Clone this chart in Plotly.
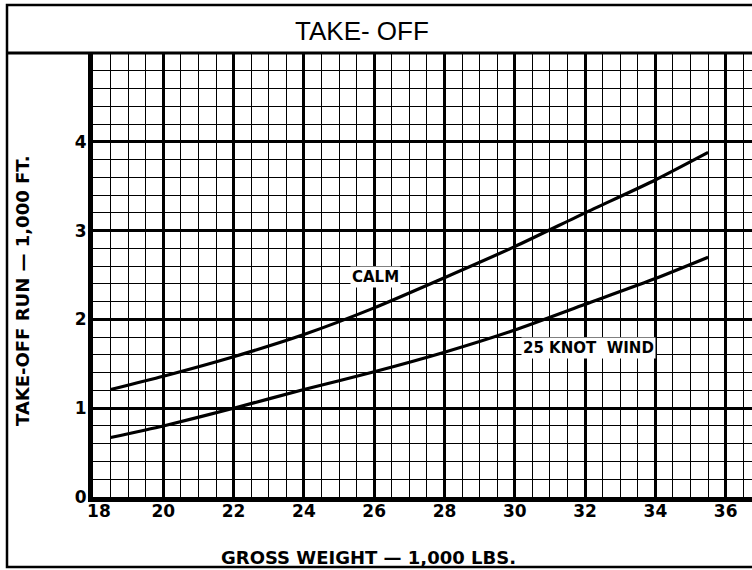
import plotly.graph_objects as go

# Gross weight (1,000 lbs)
weight = [18.5, 20, 22, 24, 26, 28, 30, 32, 34, 35.5]
# Take-off run (1,000 ft)
calm = [1.21, 1.36, 1.58, 1.83, 2.13, 2.47, 2.82, 3.20, 3.57, 3.88]
wind25 = [0.67, 0.80, 1.00, 1.21, 1.41, 1.63, 1.88, 2.17, 2.46, 2.70]

x_ticks = [18, 20, 22, 24, 26, 28, 30, 32, 34, 36]
x_ticktext = ["\u00a0\u00a018", "20", "22", "24", "26", "28", "30", "32", "34", "36"]
y_ticks = [0, 1, 2, 3, 4]

title_text = "TAKE- OFF"
x_title = "GROSS WEIGHT — 1,000 LBS."
y_title = "TAKE-OFF RUN — 1,000 FT."

W, H = 752, 570
ml, mr, mt, mb = 93, 0, 53, 73
pw, ph = W - ml - mr, H - mt - mb
px_per_x = 35.15
x_max = 18 + pw / px_per_x


def px(xpix):
    return (xpix - ml) / pw


def py(ypix):
    return (H - mb - ypix) / ph


fig = go.Figure()
for ys in (calm, wind25):
    fig.add_trace(go.Scatter(x=weight, y=ys, mode="lines",
                             line=dict(color="black", width=3.2, shape="spline", smoothing=0.6),
                             showlegend=False, hoverinfo="skip"))

tick_font = dict(family="DejaVu Sans", size=17, color="black", weight="bold")

fig.update_xaxes(range=[18, x_max], tickvals=x_ticks, ticktext=x_ticktext,
                 showgrid=True, gridcolor="black", gridwidth=3,
                 minor=dict(dtick=0.5, tick0=18, showgrid=True, gridcolor="black", gridwidth=1.4),
                 zeroline=False, showline=True, linecolor="black", linewidth=5,
                 ticks="", tickfont=tick_font, ticklabelstandoff=-5)
fig.update_yaxes(range=[0, 5], tickvals=y_ticks, ticktext=[str(v) for v in y_ticks],
                 showgrid=True, gridcolor="black", gridwidth=3,
                 minor=dict(dtick=0.2, tick0=0, showgrid=True, gridcolor="black", gridwidth=1.4),
                 zeroline=False, showline=True, linecolor="black", linewidth=5,
                 ticks="", tickfont=tick_font, ticklabelstandoff=-2)

shapes = [
    # outer border
    dict(type="rect", xref="paper", yref="paper", x0=px(7), x1=px(760), y0=py(567), y1=py(5),
         line=dict(color="black", width=2.5), fillcolor="rgba(0,0,0,0)", layer="above"),
    # title separator / top of grid
    dict(type="line", xref="paper", yref="paper", x0=px(7), x1=px(760), y0=1, y1=1,
         line=dict(color="black", width=3), layer="above"),
]

label_font = dict(family="DejaVu Sans", size=15, color="black", weight="bold")
axis_title_font = dict(family="DejaVu Sans", size=18, color="black", weight="bold")
annotations = [
    dict(text=title_text, xref="paper", yref="paper", x=px(362), y=py(31), showarrow=False,
         font=dict(family="Liberation Sans", size=26, color="black"), xanchor="center", yanchor="middle"),
    dict(text=x_title, xref="paper", yref="paper", x=px(368), y=py(557), showarrow=False,
         font=axis_title_font, xanchor="center", yanchor="middle"),
    dict(text=y_title, xref="paper", yref="paper", x=px(22), y=py(291), showarrow=False,
         font=axis_title_font, textangle=-90, xanchor="center", yanchor="middle"),
    dict(text="CALM", x=26.03, y=2.48, showarrow=False, font=label_font,
         bgcolor="white", borderpad=1),
    dict(text="25 KNOT  WIND", x=32.09, y=1.68, showarrow=False, font=label_font,
         bgcolor="white", borderpad=1),
]

fig.update_layout(width=W, height=H, margin=dict(l=ml, r=mr, t=mt, b=mb),
                  plot_bgcolor="white", paper_bgcolor="white",
                  shapes=shapes, annotations=annotations, showlegend=False)

fig.write_html("out.html", config={"displayModeBar": False},
               post_script="document.body.style.margin='0';document.body.style.padding='0';"
                           "document.documentElement.style.overflow='hidden';")
